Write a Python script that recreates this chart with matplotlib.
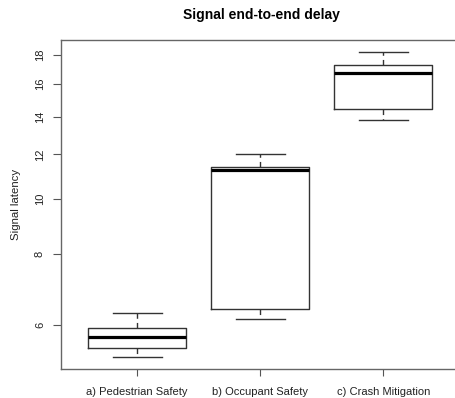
import numpy as np
import matplotlib
matplotlib.use("Agg")
import matplotlib.pyplot as plt

plt.rcParams['font.family'] = ['Liberation Sans', 'DejaVu Sans']

categories = ["a) Pedestrian Safety", "b) Occupant Safety", "c) Crash Mitigation"]
whisker_low = [5.27, 6.15, 13.79]
q1 = [5.46, 6.39, 14.46]
median = [5.70, 11.27, 16.69]
q3 = [5.93, 11.42, 17.26]
whisker_high = [6.30, 12.0, 18.2]
yticks = [6, 8, 10, 12, 14, 16, 18]

stats = []
for i in range(len(categories)):
    stats.append(dict(label=categories[i], whislo=whisker_low[i], q1=q1[i],
                      med=median[i], q3=q3[i], whishi=whisker_high[i], fliers=[]))

fig = plt.figure(figsize=(4.55, 3.98), dpi=100)
ax = fig.add_axes([0.134, 0.0736, 0.876, 0.826])

edge = '#333333'
ax.bxp(stats, positions=[1, 2, 3], widths=0.8, showfliers=False,
       boxprops=dict(color=edge, linewidth=1.0),
       medianprops=dict(color='black', linewidth=2.3, solid_capstyle='butt'),
       whiskerprops=dict(color=edge, linewidth=1.0, linestyle=(0, (4, 3))),
       capprops=dict(color=edge, linewidth=1.0),
       capwidths=0.4)

ax.set_yscale('log')
lo = min(whisker_low)
hi = max(whisker_high)
span = np.log(hi / lo)
ax.set_ylim(lo * np.exp(-0.04 * span), hi * np.exp(0.04 * span))
ax.set_xlim(0.38, 3.62)

ax.set_yticks(yticks)
ax.set_yticklabels([str(t) for t in yticks], rotation=90, va='center')
ax.minorticks_off()
ax.tick_params(axis='y', length=5.5, width=0.8, color='#555555', pad=6, labelsize=8, labelcolor='#222222')
ax.tick_params(axis='x', length=5, width=0.8, color='#555555', pad=8, labelsize=8, labelcolor='#222222')

for s in ax.spines.values():
    s.set_color('#666666')
    s.set_linewidth(1.0)

ax.set_ylabel("Signal latency", fontsize=8.2, color='#222222', labelpad=10)
fig.text(0.574, 0.962, "Signal end-to-end delay", ha='center', va='center',
         fontsize=10, fontweight='bold')

fig.savefig("out.png", dpi=100)
